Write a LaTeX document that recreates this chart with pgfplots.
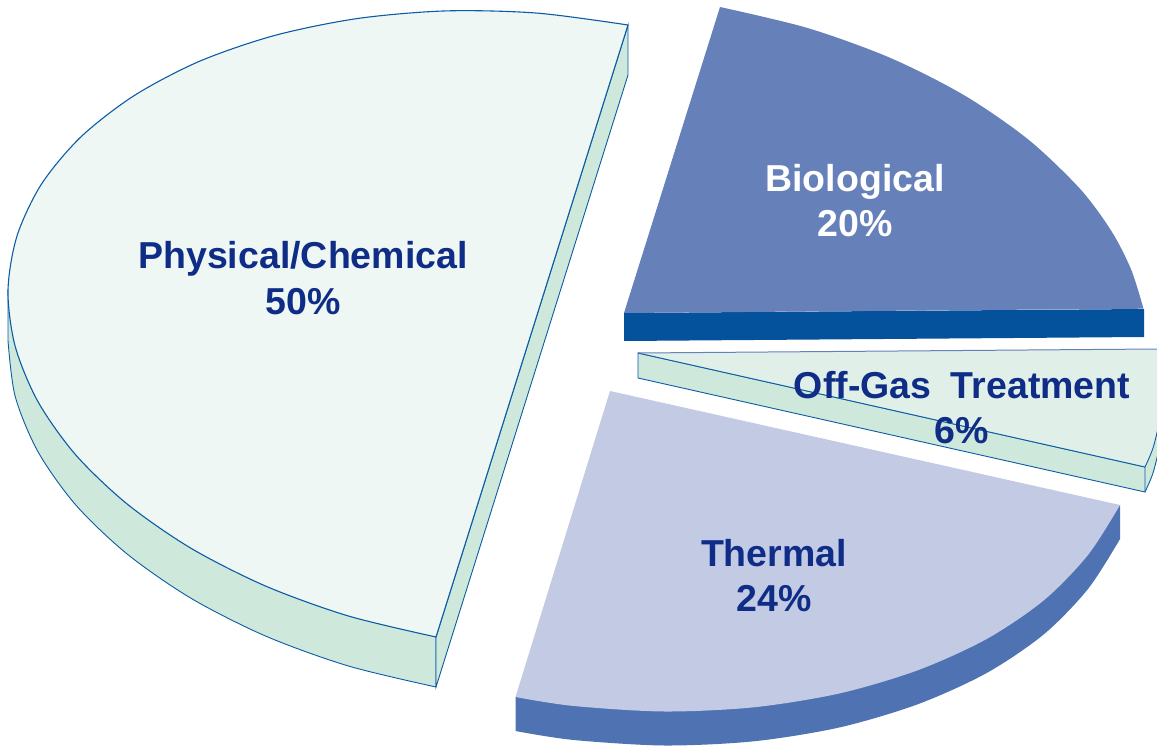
\documentclass[border=0pt]{standalone}
\usepackage{fontspec}
\setmainfont{Liberation Sans}
\usepackage{pgfplots}
\usepackage{pgfplotstable}
\pgfplotsset{compat=1.18}

\definecolor{edge}{HTML}{0B5CA5}
\definecolor{physTop}{HTML}{EEF7F4}
\definecolor{mint}{HTML}{CFE8DC}
\definecolor{gasTop}{HTML}{E0F0E8}
\definecolor{bioTop}{HTML}{6680BA}
\definecolor{bioSide}{HTML}{03529B}
\definecolor{thermTop}{HTML}{C2CAE4}
\definecolor{thermSide}{HTML}{4E72B2}
\definecolor{labelblue}{HTML}{0F2D87}

\tikzset{lab/.style={font=\fontsize{37.5}{40}\selectfont\bfseries, text=labelblue, inner sep=0pt, anchor=base}}

% all outlines, in pixels
\pgfplotstableread{
x y
628 25
537.1 13.1
446.1 10.9
357.6 18.5
274.5 35.5
199.2 61.4
134 95.7
80.8 137
41.4 184.2
17 236
8 290.6
15.2 346.4
38 401.7
75.8 455
127.5 504.3
191.4 548.5
265.7 586.1
348.1 615.9
436 637
}\physArc
\pgfplotstableread{
x y
8 340.6
15.2 396.4
38 451.7
75.8 505
127.5 554.3
191.4 598.5
265.7 636.1
348.1 665.9
436 687
}\physLow
\pgfplotstableread{
x y
720 7
807.9 28.1
890.3 57.9
964.6 95.5
1028.5 139.7
1080.2 189
1111.6 231.4
1131.2 269.7
1143.5 308.7
}\bioArc
\pgfplotstableread{
x y
1120 505
1088.2 554.7
1044 600.2
986.5 639.1
917.4 670.4
839.2 693.5
753.8 707.3
664.2 711.5
572.8 705.9
515.5 697
}\thermArc
\pgfplotstableread{
x y
515.5 731
572.8 739.9
664.2 745.5
753.8 741.3
839.2 727.5
917.4 704.4
986.5 673.1
1044 634.2
1088.2 588.7
1120 539
}\thermLow
\pgfplotstableread{
x y
1145 467
1153 448
1159.4 421
1162 393.4
1160.9 371.2
1157.5 349
}\gasArc
\pgfplotstableread{
x y
1145 492
1153 473
1159.4 446
1162 418.4
}\gasLow

\begin{document}
\begin{tikzpicture}
\begin{axis}[
  scale only axis, width=1157pt, height=746pt,
  xmin=0, xmax=1157, ymin=0, ymax=746,
  y dir=reverse, ticks=none, axis line style={draw=none},
]
% Physical/Chemical
\addplot[smooth, fill=mint, draw=edge, line width=0.9pt] table {\physLow} -- (axis cs:436,637) -- (axis cs:8,290.6) -- cycle;
\addplot[fill=mint, draw=edge, line width=0.9pt] coordinates {(628,25) (628,75) (436,687) (436,637)} -- cycle;
\addplot[smooth, fill=physTop, draw=edge, line width=1.1pt] table {\physArc} -- cycle;

% Biological
\addplot[fill=bioSide, draw=none] coordinates {(624,313) (1144,309) (1144,337) (624,341)} -- cycle;
\addplot[smooth, fill=bioTop, draw=none] table {\bioArc} -- (axis cs:624,313) -- cycle;

% Thermal
\addplot[smooth, fill=thermSide, draw=none] table {\thermLow} -- (axis cs:1120,505) -- (axis cs:515.5,697) -- cycle;
\addplot[smooth, fill=thermTop, draw=none] table {\thermArc} -- (axis cs:610,391) -- cycle;

% Off-Gas Treatment
\addplot[smooth, fill=mint, draw=none] table {\gasLow} -- (axis cs:1162,393.4) -- (axis cs:1145,467) -- cycle;
\addplot[fill=mint, draw=edge, line width=0.9pt] coordinates {(638,353) (638,378) (1145,492) (1145,467)} -- cycle;
\addplot[smooth, fill=gasTop, draw=none] table {\gasArc} -- (axis cs:638,353) -- cycle;
\addplot[draw=edge, line width=0.9pt] coordinates {(638,353) (1145,467)};
\addplot[smooth, draw=edge, line width=0.9pt] table {\gasArc};
\addplot[smooth, draw=edge, line width=0.9pt] table {\gasLow};
\addplot[draw=bioTop, line width=1pt] coordinates {(638,353) (1157.5,349)};

\node[lab] at (axis cs:303,269) {Physical/Chemical};
\node[lab] at (axis cs:303,314) {50\%};
\node[lab, text=white] at (axis cs:855,192) {Biological};
\node[lab, text=white] at (axis cs:855,237) {20\%};
\node[lab] at (axis cs:962,398) {Off-Gas\hspace{9pt} Treatment};
\node[lab] at (axis cs:962,443) {6\%};
\node[lab] at (axis cs:774,566) {Thermal};
\node[lab] at (axis cs:774,611) {24\%};
\end{axis}
\end{tikzpicture}
\end{document}
